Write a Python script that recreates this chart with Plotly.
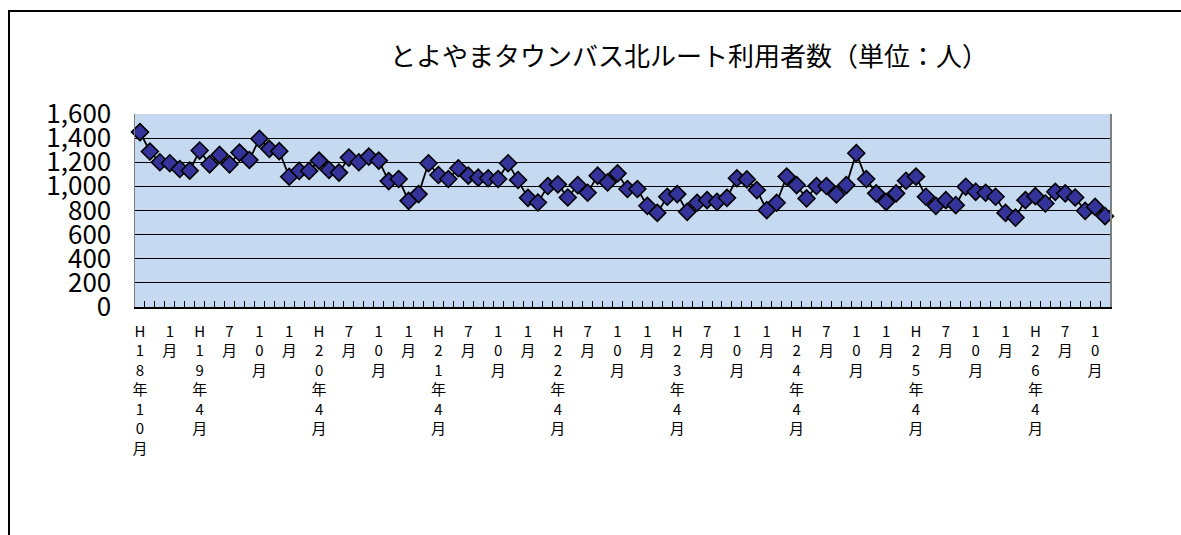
import plotly.graph_objects as go

# ---- data ----
months_labels = []
era_year = 18
month = 10
for i in range(98):
    months_labels.append(f"H{era_year}年{month}月")
    month += 1
    if month > 12:
        month = 1
    if month == 4:
        era_year += 1

# monthly riders (H18.10 - H26.11)
riders = [
    1450, 1289, 1200, 1192, 1144, 1130, 1297, 1183, 1261, 1183,
    1280, 1219, 1394, 1311, 1292, 1080, 1128, 1128, 1214, 1136,
    1114, 1239, 1200, 1247, 1214, 1044, 1061, 880, 936, 1192,
    1094, 1061, 1150, 1089, 1072, 1067, 1061, 1192, 1053, 905,
    866, 1003, 1017, 908, 1011, 947, 1089, 1033, 1108, 978,
    978, 839, 780, 914, 936, 789, 864, 886, 872, 905,
    1067, 1058, 969, 803, 864, 1081, 1011, 900, 1003, 1003,
    933, 1011, 1275, 1061, 942, 872, 942, 1047, 1081, 914,
    839, 886, 844, 997, 955, 947, 914, 780, 741, 886,
    919, 858, 955, 942, 908, 797, 830, 753,
]

# labelled every 3 months
tick_labels = []
for i, lab in enumerate(months_labels):
    if i % 3 == 0:
        if i == 0 or lab.endswith("年4月"):
            txt = lab
        else:
            txt = lab.split("年")[1]
        tick_labels.append("<br>".join(list(txt)))
    else:
        tick_labels.append("")

y_ticks = list(range(0, 1601, 200))
y_ticktext = [f"{v:,}" for v in y_ticks]

title = "とよやまタウンバス北ルート利用者数（単位：人）"

W, H = 1181, 535
L, R, T, B = 135, 1110, 114, 307

fig = go.Figure()
fig.add_trace(go.Scatter(
    x=months_labels, y=riders, mode="lines+markers",
    line=dict(color="black", width=1.8),
    marker=dict(symbol="diamond", size=13, color="#333399",
                line=dict(color="black", width=1.6)),
    showlegend=False, cliponaxis=False, hoverinfo="skip",
))

fig.update_layout(
    width=W, height=H, autosize=False,
    margin=dict(l=L, r=W - R, t=T, b=H - B),
    paper_bgcolor="white",
    plot_bgcolor="#C5D9F1",
    font=dict(family="Noto Sans CJK JP", color="black"),
    title=dict(text=title, x=689 / W, xanchor="center",
               y=1 - 57 / H, yanchor="middle",
               font=dict(size=26, family="Noto Sans CJK JP")),
    xaxis=dict(
        type="category", range=[-0.5, 97.5],
        tickmode="array", tickvals=months_labels, ticktext=tick_labels,
        ticks="inside", tickson="boundaries", ticklen=6, tickcolor="black",
        tickwidth=1, showgrid=False,
        showline=True, linecolor="black", linewidth=1.5, mirror=False,
        tickangle=0, tickfont=dict(size=15, family="Noto Sans CJK JP"),
        ticklabelstandoff=10,
    ),
    yaxis=dict(
        range=[0, 1600], tickmode="array", tickvals=y_ticks, ticktext=y_ticktext,
        showgrid=True, gridcolor="black", gridwidth=1,
        showline=True, linecolor="#808080", linewidth=1.5, mirror=True,
        ticks="", tickfont=dict(size=26, family="Noto Sans CJK JP"),
        ticklabelstandoff=17, zeroline=False,
    ),
)

# outer frame of the chart area (left and top edges)
pw, ph = R - L, B - T
fx0 = (9 - L) / pw
fx1 = (W + 20 - L) / pw
fy_top = (B - 11) / ph
fy_bot = (B - H - 20) / ph
fig.add_shape(type="path", xref="paper", yref="paper",
              path=f"M {fx0},{fy_bot} L {fx0},{fy_top} L {fx1},{fy_top}",
              line=dict(color="black", width=2), layer="above")

fig.write_html(
    "out.html",
    config={"displayModeBar": False, "staticPlot": True},
    post_script="document.documentElement.style.overflow='hidden';document.body.style.margin='0';document.body.style.overflow='hidden';",
)
